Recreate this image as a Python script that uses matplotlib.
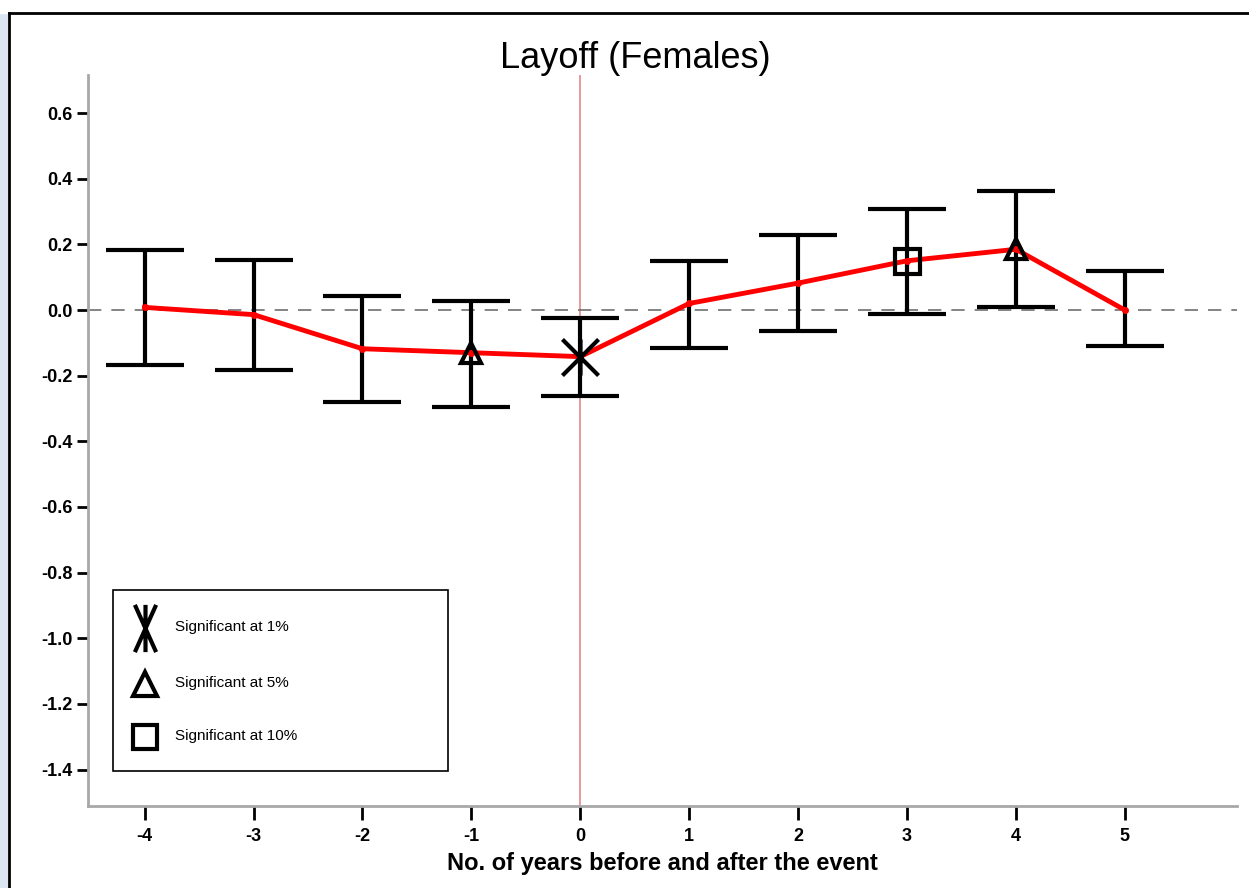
import numpy as np
import matplotlib.pyplot as plt
from matplotlib.lines import Line2D
from matplotlib.patches import Rectangle
from matplotlib.path import Path

plt.rcParams['font.family'] = ['Liberation Sans Narrow', 'Liberation Sans', 'DejaVu Sans']
plt.rcParams['axes.unicode_minus'] = False

years = [-4, -3, -2, -1, 0, 1, 2, 3, 4, 5]
coef = [0.008, -0.014, -0.118, -0.130, -0.142, 0.020, 0.082, 0.150, 0.185, 0.000]
upper = [0.183, 0.152, 0.043, 0.027, -0.024, 0.149, 0.228, 0.307, 0.362, 0.119]
lower = [-0.168, -0.183, -0.280, -0.295, -0.262, -0.116, -0.064, -0.012, 0.009, -0.110]
yticks = [0.6, 0.4, 0.2, 0.0, -0.2, -0.4, -0.6, -0.8, -1.0, -1.2, -1.4]

# significance markers: year -> marker
sig_1 = [0]
sig_5 = [-1, 4]
sig_10 = [3]
legend_labels = ['Significant at 1%', 'Significant at 5%', 'Significant at 10%']


def star_path(w):
    # vertical bar plus an X of half-width w
    verts = [(0, -1), (0, 1), (-w, -1), (w, 1), (w, -1), (-w, 1)]
    codes = [Path.MOVETO, Path.LINETO] * 3
    return Path(verts, codes)


star_plot = star_path(1.0)
star_leg = star_path(0.45)

fig = plt.figure(figsize=(12.49, 8.88), dpi=100)
ax = fig.add_axes([88 / 1249, 1 - 806 / 888, (1237 - 88) / 1249, (806 - 75) / 888])

coef = np.array(coef)
err = [coef - np.array(lower), np.array(upper) - coef]

ax.axvline(0, color='#e08a8a', lw=1.2, zorder=1)
ax.axhline(0, color='#707070', lw=1.2, ls=(0, (8, 6)), zorder=1)

ax.errorbar(years, coef, yerr=err, fmt='none', ecolor='black', elinewidth=3,
            capsize=28, capthick=3, zorder=2)
ax.plot(years, coef, color='red', lw=3.5, zorder=3)
ax.plot(years, coef, 'o', color='red', ms=4, zorder=3)

for yr in sig_1:
    ax.plot(yr, coef[years.index(yr)], marker=star_plot, ms=26, mew=3, color='black', zorder=4)
for yr in sig_5:
    ax.plot(yr, coef[years.index(yr)], marker='^', ms=15, mew=3, mfc='none', mec='black', zorder=4)
for yr in sig_10:
    ax.plot(yr, coef[years.index(yr)], marker='s', ms=18, mew=3, mfc='none', mec='black', zorder=4)

ax.set_xlim(-4.52, 6.03)
ax.set_ylim(-1.511, 0.716)
ax.set_xticks(years)
ax.set_xticklabels([str(y) for y in years])
ax.set_yticks(yticks)
ax.set_yticklabels(['%.1f' % v for v in yticks])
for lab in ax.get_xticklabels() + ax.get_yticklabels():
    lab.set_fontweight('bold')
    lab.set_fontsize(13)
ax.tick_params(axis='y', length=8, width=2, color='black', pad=3)
ax.tick_params(axis='x', length=10, width=2, color='black', pad=6)

for s in ['top', 'right']:
    ax.spines[s].set_visible(False)
for s in ['left', 'bottom']:
    ax.spines[s].set_color('#a8a8a8')
    ax.spines[s].set_linewidth(2)

ax.set_xlabel('No. of years before and after the event', fontsize=17, fontweight='bold', labelpad=5)
fig.text(635 / 1249, 1 - 59 / 888, 'Layoff (Females)', ha='center', va='center', fontsize=26,
         family=['Liberation Sans', 'DejaVu Sans'])


# legend box drawn in figure pixels
def fx(px):
    return px / 1249


def fy(py):
    return 1 - py / 888


fig.patches.append(Rectangle((fx(113), fy(771)), fx(448) - fx(113), fy(590) - fy(771),
                             transform=fig.transFigure, fill=False, ec='black', lw=1.2, zorder=5))
leg_y = [628, 684, 737]
leg_marks = [dict(marker=star_leg, ms=34, mew=3, color='black'),
             dict(marker='^', ms=17, mew=3, mfc='none', mec='black'),
             dict(marker='s', ms=17, mew=3, mfc='none', mec='black')]
for py, lab, mk in zip(leg_y, legend_labels, leg_marks):
    fig.lines.append(Line2D([fx(145)], [fy(py)], ls='none', transform=fig.transFigure, zorder=6, **mk))
    fig.text(fx(175), fy(py - 1), lab, ha='left', va='center', fontsize=11, zorder=6)

# window border
fig.patches.append(Rectangle((0, 0), 8 / 1249, 1, transform=fig.transFigure, color='#dce6f2', zorder=0))
fig.patches.append(Rectangle((0, 1 - 13 / 888), 1, 13 / 888, transform=fig.transFigure, color='white', zorder=0))
fig.lines.append(Line2D([9 / 1249, 1], [1 - 13.5 / 888] * 2, transform=fig.transFigure, color='black', lw=2))
fig.lines.append(Line2D([9 / 1249] * 2, [0, 1 - 13.5 / 888], transform=fig.transFigure, color='black', lw=2))

fig.savefig('out.png', dpi=100)
